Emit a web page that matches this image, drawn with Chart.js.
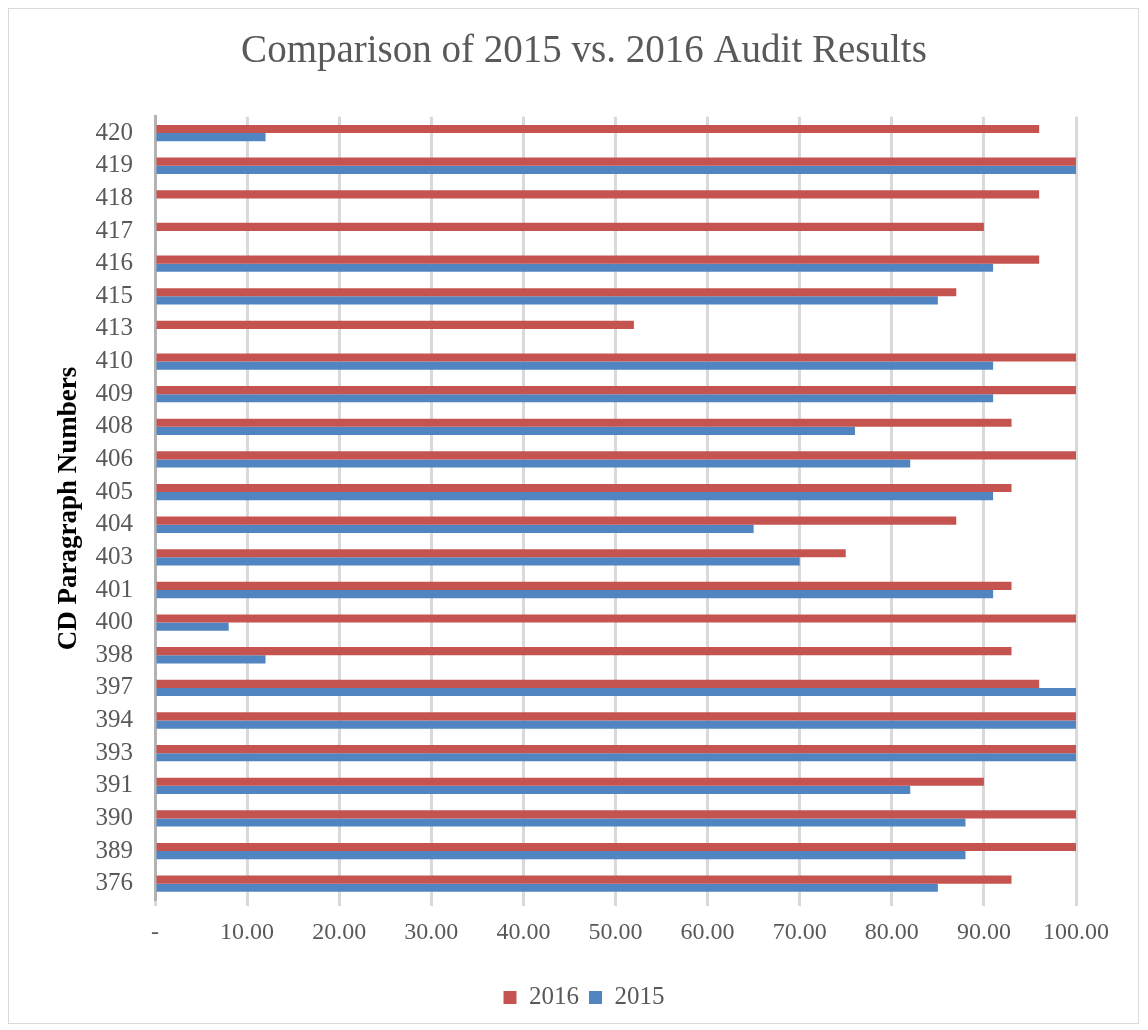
<!DOCTYPE html>
<html>
<head>
<meta charset="utf-8">
<script src="https://cdn.jsdelivr.net/npm/chart.js@4/dist/chart.umd.min.js"></script>
<style>
  html, body { margin: 0; padding: 0; background: #fff; }
  .wrap { position: relative; width: 1148px; height: 1030px; }
  .frame { position: absolute; left: 8px; top: 8px; width: 1131px; height: 1016px; border: 1px solid #d9d9d9; box-sizing: border-box; pointer-events: none; }
  canvas { position: absolute; left: 0; top: 0; }
</style>
</head>
<body>
<div class="wrap">
  <canvas class="chart-canvas" width="1148" height="1030"></canvas>
  <div class="frame"></div>
</div>
<script>
const paragraphs = ['420', '419', '418', '417', '416', '415', '413', '410', '409', '408', '406', '405',
  '404', '403', '401', '400', '398', '397', '394', '393', '391', '390', '389', '376'];
const results2016 = [96, 100, 96, 90, 96, 87, 52, 100, 100, 93, 100, 93,
  87, 75, 93, 100, 93, 96, 100, 100, 90, 100, 100, 93];
const results2015 = [12, 100, 0, 0, 91, 85, 0, 91, 91, 76, 82, 91,
  65, 70, 91, 8, 12, 100, 100, 100, 82, 88, 88, 85];

const FONT = '"Liberation Serif", "DejaVu Serif", serif';
const GREY = '#595959';

const ctx = document.querySelector('.chart-canvas');

const config = {
  type: 'bar',
  data: {
    labels: paragraphs,
    datasets: [{
      label: '2016',
      data: results2016,
      backgroundColor: '#c55450',
      categoryPercentage: 0.5,
      barPercentage: 1,
    }, {
      label: '2015',
      data: results2015,
      backgroundColor: '#5085c2',
      categoryPercentage: 0.5,
      barPercentage: 1,
    }]
  },
  options: {
    indexAxis: 'y',
    responsive: false,
    animation: false,
    layout: {
      padding: {left: 92, right: 72, top: 0, bottom: 10},
    },
    plugins: {
      title: {
        display: true,
        text: 'Comparison of 2015 vs. 2016 Audit Results',
        color: GREY,
        font: {family: FONT, size: 39, weight: 'normal'},
        padding: {top: 28, bottom: 42},
      },
      legend: {
        position: 'bottom',
        labels: {
          color: GREY,
          font: {family: FONT, size: 25},
          boxWidth: 13,
          boxHeight: 13,
          padding: 10,
        },
      },
      tooltip: {enabled: false},
    },
    scales: {
      x: {
        min: 0,
        max: 100,
        ticks: {
          stepSize: 10,
          color: GREY,
          padding: 12,
          font: {family: FONT, size: 24},
          maxRotation: 0,
          callback: (value) => value === 0 ? '-' : value.toFixed(2),
        },
        grid: {
          color: '#d9d9d9',
          lineWidth: 3,
          tickLength: 6,
        },
        border: {display: false},
        afterFit: (scale) => { scale.height = 75; },
      },
      y: {
        ticks: {
          color: GREY,
          padding: 14,
          autoSkip: false,
          font: {family: FONT, size: 25},
        },
        grid: {display: false},
        border: {display: true, color: '#b3b3b3', width: 3},
        title: {
          display: true,
          text: 'CD Paragraph Numbers',
          color: '#000',
          font: {family: FONT, size: 27, weight: 'bold'},
          // pulled left, out of the scale box, to sit like the original
          padding: {top: -39, bottom: 0},
        },
        afterFit: (scale) => { scale.width = 63; },
      },
    },
  },
};

const chart = new Chart(ctx, config);
</script>
</body>
</html>
